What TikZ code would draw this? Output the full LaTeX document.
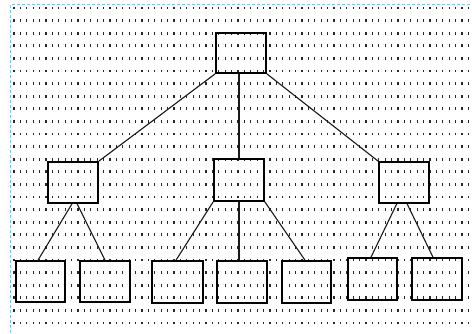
\documentclass[tikz,border=0pt]{standalone}
\usetikzlibrary{calc}
\definecolor{dotc}{RGB}{40,40,40}
\definecolor{gridblue}{RGB}{120,200,230}
\begin{document}
\begin{tikzpicture}[x=1pt,y=-1pt,
  boxn/.style={draw=black,line width=1.7pt,inner sep=0pt,minimum width=#1},
  conn/.style={draw=black!90,line width=1.1pt}]
\useasboundingbox (0,0) rectangle (472,333);
% dot grid
\foreach \i in {0,...,71}{
  \foreach \j in {0,...,25}{
    \fill[dotc] ({14+6.4*\i-0.6},{8+12.6*\j-1.4}) rectangle ++(1.2,2.8);
  }
}
% dashed border
\draw[gridblue,line width=0.8pt,dash pattern=on 3pt off 2pt] (10.5,333) -- (10.5,4.5) -- (472,4.5);
% boxes
\node[boxn=50pt,minimum height=40pt] (T) at (241,53) {};
\node[boxn=50pt,minimum height=41pt] (ML) at (73,182.5) {};
\node[boxn=50pt,minimum height=42pt] (MM) at (239,180) {};
\node[boxn=50pt,minimum height=41pt] (MR) at (404,182.5) {};
\node[boxn=49pt,minimum height=41pt] (B1) at (40.5,281.5) {};
\node[boxn=50pt,minimum height=41pt] (B2) at (105,281.5) {};
\node[boxn=51pt,minimum height=42pt] (B3) at (177.5,282) {};
\node[boxn=50pt,minimum height=42pt] (B4) at (242,282) {};
\node[boxn=49pt,minimum height=42pt] (B5) at (306.5,282) {};
\node[boxn=49pt,minimum height=42pt] (B6) at (372.5,279) {};
\node[boxn=50pt,minimum height=42pt] (B7) at (437,279) {};
% connectors
\draw[conn] (T.south west) -- (ML.north east);
\draw[conn] (MM.north |- T.south) -- (MM.north);
\draw[conn] (T.south east) -- (MR.north west);
\draw[conn] ($(ML.south west)!0.48!(ML.south east)$) -- ($(B1.north)+(-2.5,0)$);
\draw[conn] ($(ML.south west)!0.58!(ML.south east)$) -- (B2.north);
\draw[conn] (MM.south west) -- ($(B3.north)+(-1.5,0)$);
\draw[conn] (MM.south) -- (MM.south |- B4.north);
\draw[conn] (MM.south east) -- ($(B5.north)+(-1.5,0)$);
\draw[conn] ($(MR.south west)!0.36!(MR.south east)$) -- ($(B6.north)+(-1.5,0)$);
\draw[conn] ($(MR.south west)!0.56!(MR.south east)$) -- ($(B7.north)+(-4,0)$);
\end{tikzpicture}
\end{document}
